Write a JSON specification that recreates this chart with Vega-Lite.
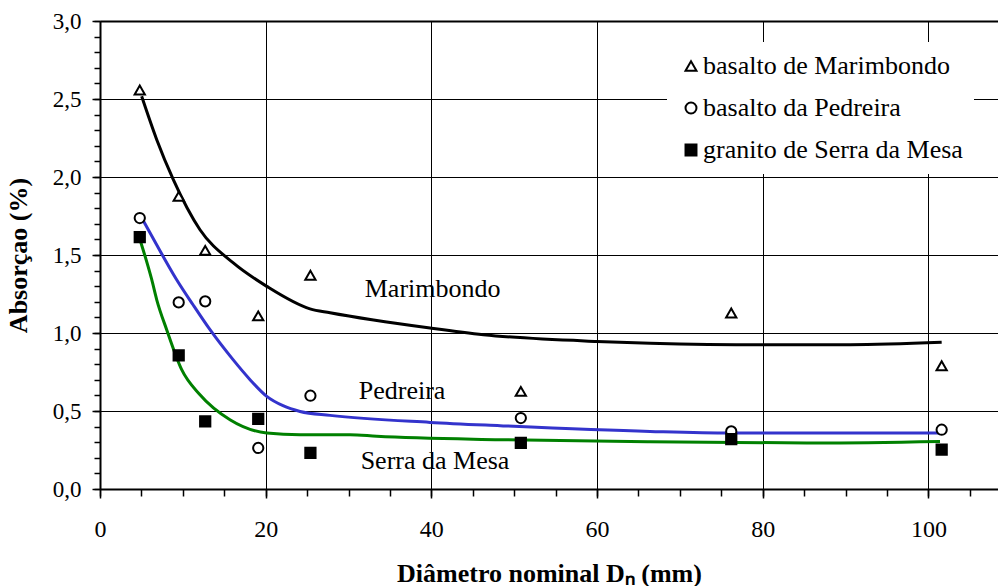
{
  "$schema": "https://vega.github.io/schema/vega-lite/v6.json",
  "width": 898,
  "height": 468,
  "autosize": {"type": "none"},
  "padding": {"left": 100, "top": 21, "right": 0, "bottom": 97},
  "background": "white",
  "config": {"font": "Liberation Serif", "view": {"stroke": null}},
  "datasets": {
    "curves": [
      {"serie": "Marimbondo", "x": 5.03, "y": 2.517},
      {"serie": "Marimbondo", "x": 6.85, "y": 2.239},
      {"serie": "Marimbondo", "x": 8.85, "y": 1.983},
      {"serie": "Marimbondo", "x": 12.07, "y": 1.662},
      {"serie": "Marimbondo", "x": 16.09, "y": 1.449},
      {"serie": "Marimbondo", "x": 20.13, "y": 1.299},
      {"serie": "Marimbondo", "x": 25.35, "y": 1.155},
      {"serie": "Marimbondo", "x": 27.77, "y": 1.13},
      {"serie": "Marimbondo", "x": 39.84, "y": 1.032},
      {"serie": "Marimbondo", "x": 46.28, "y": 0.989},
      {"serie": "Marimbondo", "x": 59.97, "y": 0.946},
      {"serie": "Marimbondo", "x": 66.4, "y": 0.935},
      {"serie": "Marimbondo", "x": 80.08, "y": 0.925},
      {"serie": "Marimbondo", "x": 90.54, "y": 0.925},
      {"serie": "Marimbondo", "x": 101.6, "y": 0.94},
      {"serie": "Pedreira", "x": 5.16, "y": 1.726},
      {"serie": "Pedreira", "x": 7.24, "y": 1.527},
      {"serie": "Pedreira", "x": 9.18, "y": 1.348},
      {"serie": "Pedreira", "x": 11.23, "y": 1.181},
      {"serie": "Pedreira", "x": 13.28, "y": 1.021},
      {"serie": "Pedreira", "x": 16.06, "y": 0.829},
      {"serie": "Pedreira", "x": 18.11, "y": 0.701},
      {"serie": "Pedreira", "x": 20.13, "y": 0.594},
      {"serie": "Pedreira", "x": 22.09, "y": 0.534},
      {"serie": "Pedreira", "x": 24.15, "y": 0.497},
      {"serie": "Pedreira", "x": 27.77, "y": 0.472},
      {"serie": "Pedreira", "x": 39.84, "y": 0.427},
      {"serie": "Pedreira", "x": 48.29, "y": 0.406},
      {"serie": "Pedreira", "x": 66.4, "y": 0.369},
      {"serie": "Pedreira", "x": 76.06, "y": 0.359},
      {"serie": "Pedreira", "x": 101.4, "y": 0.359},
      {"serie": "Serra", "x": 4.83, "y": 1.598},
      {"serie": "Serra", "x": 6.24, "y": 1.343},
      {"serie": "Serra", "x": 6.85, "y": 1.213},
      {"serie": "Serra", "x": 8.05, "y": 1.021},
      {"serie": "Serra", "x": 9.86, "y": 0.765},
      {"serie": "Serra", "x": 12.07, "y": 0.604},
      {"serie": "Serra", "x": 15.69, "y": 0.444},
      {"serie": "Serra", "x": 20.13, "y": 0.359},
      {"serie": "Serra", "x": 24.15, "y": 0.348},
      {"serie": "Serra", "x": 30.18, "y": 0.348},
      {"serie": "Serra", "x": 33.41, "y": 0.338},
      {"serie": "Serra", "x": 48.29, "y": 0.316},
      {"serie": "Serra", "x": 66.4, "y": 0.303},
      {"serie": "Serra", "x": 86.53, "y": 0.295},
      {"serie": "Serra", "x": 101.4, "y": 0.305}
    ],
    "points": [
      {"serie": "basalto de Marimbondo", "x": 4.8, "y": 2.558},
      {"serie": "basalto de Marimbondo", "x": 9.5, "y": 1.876},
      {"serie": "basalto de Marimbondo", "x": 12.7, "y": 1.53},
      {"serie": "basalto de Marimbondo", "x": 19.1, "y": 1.11},
      {"serie": "basalto de Marimbondo", "x": 25.4, "y": 1.37},
      {"serie": "basalto de Marimbondo", "x": 50.8, "y": 0.626},
      {"serie": "basalto de Marimbondo", "x": 76.2, "y": 1.128},
      {"serie": "basalto de Marimbondo", "x": 101.6, "y": 0.79},
      {"serie": "basalto da Pedreira", "x": 4.8, "y": 1.737},
      {"serie": "basalto da Pedreira", "x": 9.5, "y": 1.196},
      {"serie": "basalto da Pedreira", "x": 12.7, "y": 1.203},
      {"serie": "basalto da Pedreira", "x": 19.1, "y": 0.263},
      {"serie": "basalto da Pedreira", "x": 25.4, "y": 0.598},
      {"serie": "basalto da Pedreira", "x": 50.8, "y": 0.455},
      {"serie": "basalto da Pedreira", "x": 76.2, "y": 0.369},
      {"serie": "basalto da Pedreira", "x": 101.6, "y": 0.38},
      {"serie": "granito de Serra da Mesa", "x": 4.8, "y": 1.615},
      {"serie": "granito de Serra da Mesa", "x": 9.5, "y": 0.856},
      {"serie": "granito de Serra da Mesa", "x": 12.7, "y": 0.433},
      {"serie": "granito de Serra da Mesa", "x": 19.1, "y": 0.449},
      {"serie": "granito de Serra da Mesa", "x": 25.4, "y": 0.231},
      {"serie": "granito de Serra da Mesa", "x": 50.8, "y": 0.295},
      {"serie": "granito de Serra da Mesa", "x": 76.2, "y": 0.32},
      {"serie": "granito de Serra da Mesa", "x": 101.6, "y": 0.252}
    ],
    "labels": [
      {"label": "Marimbondo", "x": 40.15, "y": 1.233},
      {"label": "Pedreira", "x": 36.46, "y": 0.577},
      {"label": "Serra da Mesa", "x": 40.44, "y": 0.128}
    ]
  },
  "resolve": {"axis": {"x": "independent", "y": "independent"}},
  "layer": [
    {
      "data": {"name": "curves"},
      "mark": {"type": "line", "strokeWidth": 3, "interpolate": "monotone"},
      "encoding": {
        "x": {
          "field": "x", "type": "quantitative",
          "scale": {"domain": [0, 108.4], "nice": false, "zero": false},
          "axis": {
            "orient": "bottom",
            "values": [0, 20, 40, 60, 80, 100],
            "title": "Diâmetro nominal Dₙ (mm)",
            "titleFont": "Liberation Serif", "titleFontSize": 26, "titleFontWeight": "bold", "titleColor": "black",
            "titlePadding": 19,
            "labelFont": "Liberation Serif", "labelFontSize": 24, "labelColor": "black", "labelPadding": 19,
            "labelOverlap": false, "labelFlush": false,
            "tickSize": 9, "tickColor": "black", "tickWidth": 1.5,
            "domainColor": "black", "domainWidth": 2,
            "grid": true, "gridColor": "black", "gridWidth": 1, "gridOpacity": 1
          }
        },
        "y": {
          "field": "y", "type": "quantitative",
          "scale": {"domain": [0, 3], "nice": false, "zero": false},
          "axis": {
            "orient": "left",
            "values": [0, 0.5, 1, 1.5, 2, 2.5, 3],
            "labelExpr": "replace(format(datum.value, '.1f'), '.', ',')",
            "title": "Absorçao (%)",
            "titleFont": "Liberation Serif", "titleFontSize": 26, "titleFontWeight": "bold", "titleColor": "black",
            "titlePadding": 21,
            "labelFont": "Liberation Serif", "labelFontSize": 23, "labelColor": "black", "labelPadding": 11,
            "labelOverlap": false, "labelFlush": false,
            "tickSize": 8, "tickColor": "black", "tickWidth": 1.5,
            "domainColor": "black", "domainWidth": 2,
            "grid": true, "gridColor": "black", "gridOpacity": 1,
            "gridWidth": {"condition": {"test": "datum.value >= 2.99", "value": 2}, "value": 1}
          }
        },
        "color": {
          "field": "serie", "type": "nominal",
          "scale": {"domain": ["Marimbondo", "Pedreira", "Serra"], "range": ["#000000", "#3333cc", "#008000"]},
          "legend": null
        }
      }
    },
    {
      "data": {"name": "points"},
      "mark": {"type": "point", "filled": true, "size": 105, "strokeWidth": 2, "opacity": 1, "fillOpacity": 1, "strokeOpacity": 1},
      "encoding": {
        "x": {
          "field": "x", "type": "quantitative",
          "scale": {"domain": [0, 108.4], "nice": false, "zero": false},
          "axis": {
            "orient": "bottom",
            "values": [0, 5, 10, 15, 20, 25, 30, 35, 40, 45, 50, 55, 60, 65, 70, 75, 80, 85, 90, 95, 100, 105],
            "labels": false, "grid": false, "domain": false, "title": null,
            "tickSize": 7, "tickColor": "black", "tickWidth": 1.5
          }
        },
        "y": {
          "field": "y", "type": "quantitative",
          "scale": {"domain": [0, 3], "nice": false, "zero": false},
          "axis": {
            "orient": "left",
            "values": [0, 0.1, 0.2, 0.3, 0.4, 0.5, 0.6, 0.7, 0.8, 0.9, 1, 1.1, 1.2, 1.3, 1.4, 1.5, 1.6, 1.7, 1.8, 1.9, 2, 2.1, 2.2, 2.3, 2.4, 2.5, 2.6, 2.7, 2.8, 2.9, 3],
            "labels": false, "grid": false, "domain": false, "title": null,
            "tickSize": 6, "tickColor": "black", "tickWidth": 1.5
          }
        },
        "shape": {
          "field": "serie", "type": "nominal",
          "scale": {"domain": ["basalto de Marimbondo", "basalto da Pedreira", "granito de Serra da Mesa"], "range": ["triangle-up", "circle", "square"]},
          "legend": {"orient": "none", "legendX": 567, "legendY": 21, "title": null, "fillColor": "white", "strokeColor": null, "padding": 11, "labelFont": "Liberation Serif", "labelFontSize": 26, "labelColor": "black", "labelLimit": 400, "symbolSize": 120, "symbolStrokeWidth": 2, "rowPadding": 16, "labelOffset": -1}
        },
        "fill": {
          "field": "serie", "type": "nominal",
          "scale": {"domain": ["basalto de Marimbondo", "basalto da Pedreira", "granito de Serra da Mesa"], "range": ["white", "white", "black"]},
          "legend": {"orient": "none", "legendX": 567, "legendY": 21, "title": null, "fillColor": "white", "strokeColor": null, "padding": 11, "labelFont": "Liberation Serif", "labelFontSize": 26, "labelColor": "black", "labelLimit": 400, "symbolSize": 120, "symbolStrokeWidth": 2, "rowPadding": 16, "labelOffset": -1}
        },
        "stroke": {
          "field": "serie", "type": "nominal",
          "scale": {"domain": ["basalto de Marimbondo", "basalto da Pedreira", "granito de Serra da Mesa"], "range": ["black", "black", "black"]},
          "legend": {"orient": "none", "legendX": 567, "legendY": 21, "title": null, "fillColor": "white", "strokeColor": null, "padding": 11, "labelFont": "Liberation Serif", "labelFontSize": 26, "labelColor": "black", "labelLimit": 400, "symbolSize": 120, "symbolStrokeWidth": 2, "rowPadding": 16, "labelOffset": -1}
        }
      }
    },
    {
      "data": {"name": "labels"},
      "mark": {"type": "text", "font": "Liberation Serif", "fontSize": 26, "align": "center", "baseline": "alphabetic", "color": "black"},
      "encoding": {
        "x": {"field": "x", "type": "quantitative", "scale": {"domain": [0, 108.4], "nice": false, "zero": false}, "axis": null},
        "y": {"field": "y", "type": "quantitative", "scale": {"domain": [0, 3], "nice": false, "zero": false}, "axis": null},
        "text": {"field": "label"}
      }
    }
  ]
}
